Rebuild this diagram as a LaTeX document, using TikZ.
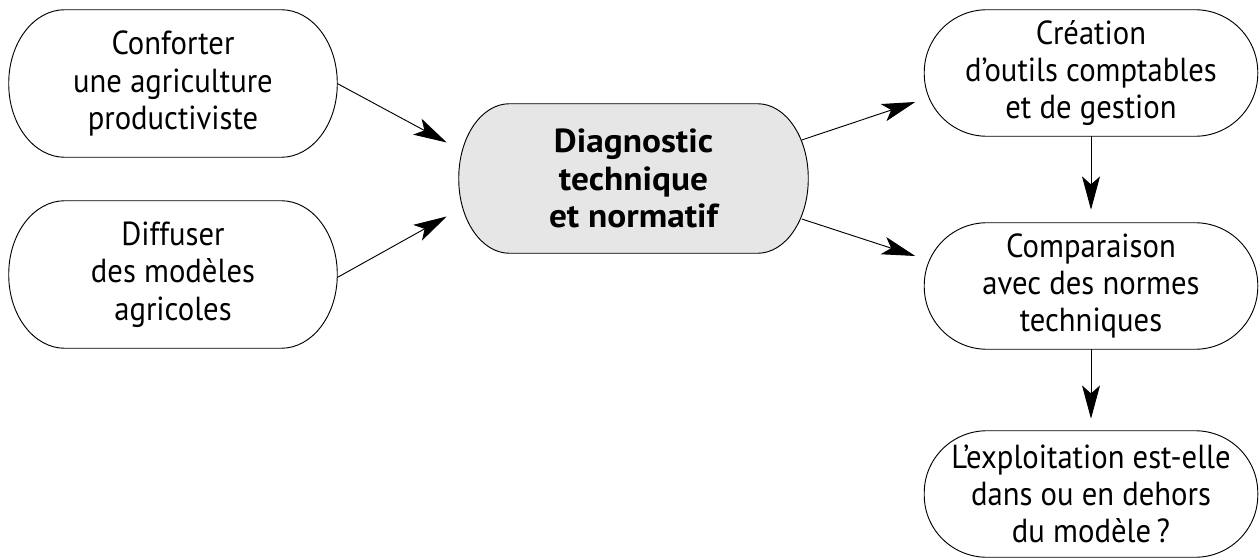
\documentclass[tikz,border=0pt]{standalone}
\usepackage{fontspec}
\setmainfont[FakeStretch=0.92,BoldFeatures={FakeStretch=1.06}]{PT Sans}
\usetikzlibrary{arrows.meta,calc,backgrounds}

% outline of a box with elliptic ends, drawn round a named node
% #1 = extra options, #2 = node, #3 = x radius, #4 = y radius
\newcommand\capsuleoutline[4][]{%
  \path[boxline,#1]
    ($(#2.north west)+(#3,0)$) -- ($(#2.north east)+(-#3,0)$)
    arc[start angle=90,end angle=0,x radius=#3,y radius=#4]
    -- ($(#2.south east)+(0,#4)$)
    arc[start angle=0,end angle=-90,x radius=#3,y radius=#4]
    -- ($(#2.south west)+(#3,0)$)
    arc[start angle=270,end angle=180,x radius=#3,y radius=#4]
    -- ($(#2.north west)+(0,-#4)$)
    arc[start angle=180,end angle=90,x radius=#3,y radius=#4]
    -- cycle;}

\definecolor{mainfill}{RGB}{230,230,230}

\begin{document}
\begin{tikzpicture}[x=0.75pt,y=0.75pt,
  boxline/.style={draw=black,line width=0.7pt},
  label/.style={inner sep=0pt,align=center,
    font=\fontsize{25}{28}\selectfont},
  leftbox/.style={label,minimum width=246pt,minimum height=110.25pt},
  mainbox/.style={label,minimum width=261.75pt,minimum height=111.75pt,
    font=\fontsize{25}{28}\selectfont\bfseries},
  rightbox/.style={label,minimum width=249.75pt,minimum height=94.5pt},
  link/.style={draw=black,line width=0.7pt,
    -{Stealth[length=25pt,width=13.5pt,inset=6pt]}}]

\useasboundingbox (0,0) rectangle (1259,558);

% boxes
\node[leftbox]  (conf) at (173,474.5) {Conforter\\une agriculture\\productiviste};
\node[leftbox]  (diff) at (173,283.5) {Diffuser\\des modèles\\agricoles};
\node[mainbox]  (diag) at (633.5,379.5) {Diagnostic\\technique\\et normatif};
\node[rightbox] (crea) at (1091,485) {Création\\d’outils comptables\\et de gestion};
\node[rightbox] (comp) at (1091,272) {Comparaison\\avec des normes\\techniques};
\node[rightbox] (expl) at (1091,64) {L’exploitation est-elle\\dans ou en dehors\\du modèle\,?};

% outlines behind the labels
\begin{scope}[on background layer]
\capsuleoutline{conf}{42pt}{55pt}
\capsuleoutline{diff}{42pt}{55pt}
\capsuleoutline[fill=mainfill]{diag}{38pt}{55.8pt}
\capsuleoutline{crea}{47pt}{47pt}
\capsuleoutline{comp}{47pt}{47pt}
\capsuleoutline{expl}{47pt}{46.5pt}
\end{scope}

% connectors
\draw[link] (conf.east) -- ($(diag.west)+(-12,36)$);
\draw[link] ($(diff.east)+(0,-3)$) -- ($(diag.west)+(-12,-38)$);
\draw[link] ($(diag.east)+(-6.5,38.5)$) -- ($(crea.west)+(-9,-29)$);
\draw[link] ($(diag.east)+(-6.5,-40.5)$) -- ($(comp.west)+(-9,30)$);
\draw[link] (crea.south) -- ($(comp.north)+(0,13)$);
\draw[link] (comp.south) -- ($(expl.north)+(0,12)$);
\end{tikzpicture}
\end{document}
